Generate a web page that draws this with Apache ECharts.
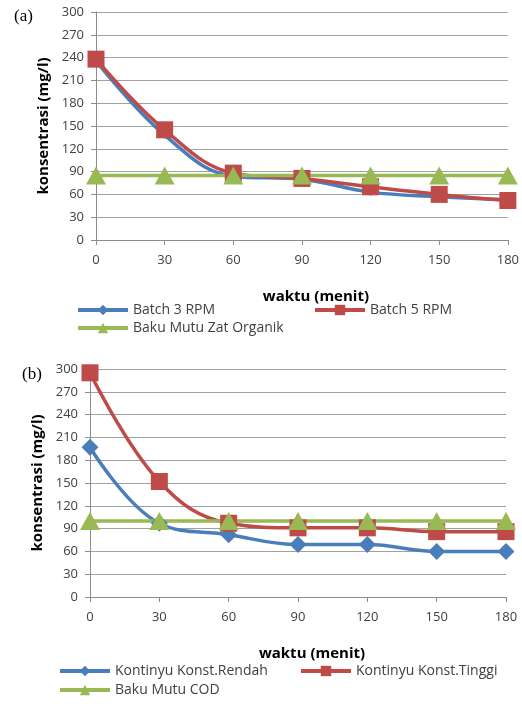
<!DOCTYPE html>
<html><head><meta charset="utf-8">
<script src="https://cdn.jsdelivr.net/npm/echarts@6/dist/echarts.min.js"></script>
<style>html,body{margin:0;padding:0;background:#fff}#c{width:522px;height:704px}</style>
</head><body><div id="c"></div>
<script>
const categories = ['0','30','60','90','120','150','180'];
const yTicks = [0,30,60,90,120,150,180,210,240,270,300];
const batch3 = [236, 138, 84, 80, 63, 57, 53];
const batch5 = [238, 145, 88, 81, 70, 60, 52];
const bakuMutuOrganik = [85, 85, 85, 85, 85, 85, 85];
const kontinyuRendah = [197, 97, 82, 69, 69, 60, 60];
const kontinyuTinggi = [295, 152, 97, 91, 91, 86, 86];
const bakuMutuCOD = [100, 100, 100, 100, 100, 100, 100];

const BLUE = '#4a7ebb', RED = '#be4b48', GREEN = '#98b954';
const FONT = '"Open Sans", "Liberation Sans", sans-serif';
const txt = '#404040';

function xAxisCfg(gridIndex, shift){
  return {
    type:'category', gridIndex, data:categories, boundaryGap:false,
    axisLine:{lineStyle:{color:'#8c8c8c',width:1}},
    axisTick:{show:true,length:5,lineStyle:{color:'#8c8c8c'}},
    axisLabel:{color:txt,fontFamily:FONT,fontSize:13,margin:14},
    splitLine:{show:false},
    name:'waktu (menit)', nameLocation:'middle', nameGap:49,
    nameTextStyle:{fontFamily:FONT,fontSize:15,fontWeight:'bold',color:'#000',padding:[0,0,0,shift]}
  };
}
function yAxisCfg(gridIndex){
  return {
    type:'value', gridIndex, min:yTicks[0], max:yTicks[yTicks.length-1], interval:30,
    axisLine:{show:true,lineStyle:{color:'#8c8c8c',width:1}},
    axisTick:{show:true,length:5,lineStyle:{color:'#8c8c8c'}},
    axisLabel:{color:txt,fontFamily:FONT,fontSize:13,margin:12},
    splitLine:{show:true,lineStyle:{color:'#a0a0a0',width:1}},
    name:'konsentrasi (mg/l)', nameLocation:'middle', nameGap:45,
    nameTextStyle:{fontFamily:FONT,fontSize:15,fontWeight:'bold',color:'#000'}
  };
}
function ser(name, data, color, symbol, size, xi){
  return {
    name, type:'line', data, xAxisIndex:xi, yAxisIndex:xi, smooth:0.4,
    symbol, symbolSize:size, showSymbol:true,
    lineStyle:{color,width:3.5}, itemStyle:{color},
    z: 2
  };
}
function leg(name, left, top){
  return {
    data:[name], left, top, orient:'horizontal', itemWidth:50, itemHeight:13, itemGap:4,
    lineStyle:{width:4},
    textStyle:{fontFamily:FONT,fontSize:14,color:txt}, selectedMode:false, padding:0
  };
}

const chart = echarts.init(document.getElementById('c'), null, {renderer:'canvas'});
chart.setOption({
  animation:false,
  backgroundColor:'#fff',
  grid:[
    {left:96, right:14, top:12, height:228},
    {left:90, right:16, top:369, height:228}
  ],
  xAxis:[xAxisCfg(0,28), xAxisCfg(1,28)],
  yAxis:[yAxisCfg(0), yAxisCfg(1)],
  graphic:[
    {type:'text', left:14, top:8, style:{text:'(a)', font:'17px "Liberation Serif", serif', fill:'#000'}},
    {type:'text', left:22, top:366, style:{text:'(b)', font:'17px "Liberation Serif", serif', fill:'#000'}}
  ],
  legend:[
    leg('Batch 3 RPM', 76, 303),
    leg('Batch 5 RPM', 313, 303),
    leg('Baku Mutu Zat Organik', 76, 321),
    leg('Kontinyu Konst.Rendah', 58, 664),
    leg('Kontinyu Konst.Tinggi', 299, 664),
    leg('Baku Mutu COD', 58, 683)
  ],
  series:[
    ser('Batch 3 RPM', batch3, BLUE, 'diamond', 8, 0),
    ser('Batch 5 RPM', batch5, RED, 'rect', 17, 0),
    ser('Baku Mutu Zat Organik', bakuMutuOrganik, GREEN, 'triangle', [20,18], 0),
    ser('Kontinyu Konst.Rendah', kontinyuRendah, BLUE, 'diamond', 17, 1),
    ser('Kontinyu Konst.Tinggi', kontinyuTinggi, RED, 'rect', 17, 1),
    ser('Baku Mutu COD', bakuMutuCOD, GREEN, 'triangle', [20,18], 1)
  ]
});
</script></body></html>
